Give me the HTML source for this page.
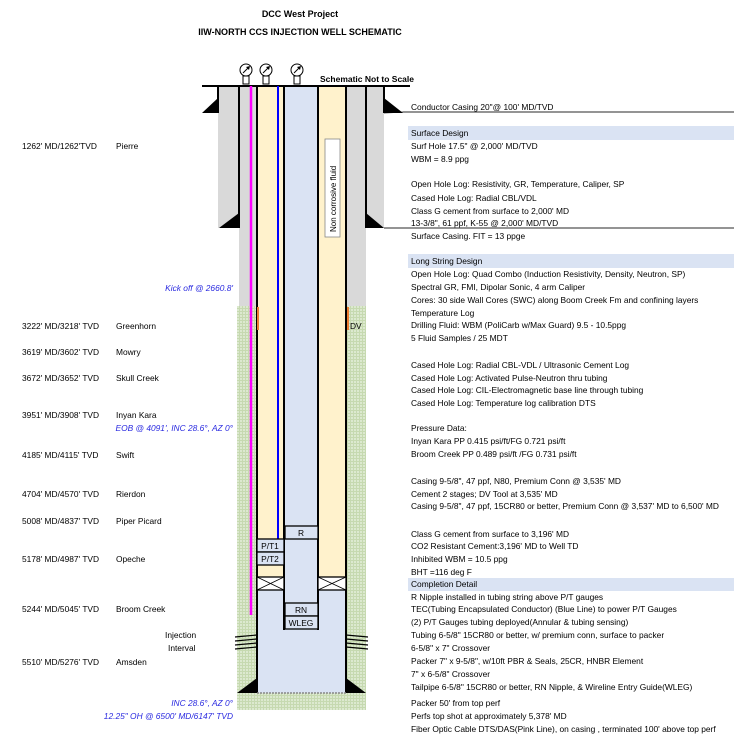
<!DOCTYPE html>
<html><head><meta charset="utf-8"><style>
html,body{margin:0;padding:0;background:#fff;width:740px;height:737px;overflow:hidden}
svg text{font-family:"Liberation Sans",sans-serif;font-size:8.4px;fill:#000}
.b{fill:#2a2ae0!important;font-style:italic}
</style></head><body>
<svg width="740" height="737" viewBox="0 0 740 737" xmlns="http://www.w3.org/2000/svg">
<defs>
<pattern id="g" width="3" height="3" patternUnits="userSpaceOnUse">
<rect width="3" height="3" fill="#c6d9b0"/><rect width="2" height="2" fill="#dce9cf"/>
</pattern>
</defs>
<text x="300" y="17" text-anchor="middle" style="font-weight:bold;font-size:9px">DCC West Project</text>
<text x="300" y="35" text-anchor="middle" style="font-weight:bold;font-size:9px">IIW-NORTH CCS INJECTION WELL SCHEMATIC</text>
<text x="320" y="82" style="font-weight:bold;font-size:8.5px">Schematic Not to Scale</text>

<rect x="237" y="306" width="20" height="404" fill="url(#g)"/>
<rect x="346" y="306" width="20" height="404" fill="url(#g)"/>
<rect x="237" y="693" width="129" height="17" fill="url(#g)"/>
<rect x="218" y="86" width="21" height="142" fill="#d9d9d9"/>
<rect x="366" y="86" width="18" height="142" fill="#d9d9d9"/>
<rect x="239" y="86" width="18" height="220" fill="#d9d9d9"/>
<rect x="346" y="86" width="20" height="220" fill="#d9d9d9"/>
<rect x="257" y="86" width="28" height="491" fill="#fff2cc"/>
<rect x="318" y="86" width="28" height="491" fill="#fff2cc"/>
<rect x="285" y="86" width="33" height="544" fill="#dae3f3"/>
<rect x="257" y="577" width="89" height="116" fill="#dae3f3"/>
<g stroke="#000" stroke-width="2" fill="none">
<line x1="202" y1="86" x2="410" y2="86"/>
<line x1="218" y1="86" x2="218" y2="113"/>
<line x1="384" y1="86" x2="384" y2="113"/>
<line x1="239" y1="86" x2="239" y2="228"/>
<line x1="366" y1="86" x2="366" y2="228"/>
<line x1="257" y1="86" x2="257" y2="693"/>
<line x1="346" y1="86" x2="346" y2="693"/>
<line x1="284" y1="86" x2="284" y2="630"/>
<line x1="318" y1="86" x2="318" y2="630"/>
</g>
<line x1="257" y1="693" x2="346" y2="693" stroke="#888" stroke-width="1.5" stroke-dasharray="2,1"/>
<line x1="403" y1="112" x2="734" y2="112" stroke="#555" stroke-width="1.2"/>
<line x1="384" y1="228" x2="734" y2="228" stroke="#555" stroke-width="1.2"/>
<line x1="384" y1="113" x2="403" y2="112" stroke="#555" stroke-width="1"/>
<g fill="#000">
<polygon points="202,113 218,113 218,98"/>
<polygon points="403,113 384,113 384,98"/>
<polygon points="219,228 239,228 239,213"/>
<polygon points="384,228 366,228 366,213"/>
<polygon points="237,693 257,693 257,678"/>
<polygon points="366,693 346,693 346,678"/>
</g>
<line x1="251" y1="86" x2="251" y2="615" stroke="#ff00ff" stroke-width="2.5"/>
<line x1="278" y1="86" x2="278" y2="539" stroke="#0000ff" stroke-width="2"/>
<rect x="257" y="307" width="2" height="23" fill="#ed7d31"/>
<rect x="347" y="307" width="2" height="23" fill="#ed7d31"/>
<text x="350" y="329">DV</text>
<rect x="325" y="139" width="15" height="98" fill="#fff" stroke="#888" stroke-width="0.8"/>
<text transform="translate(336,232) rotate(-90)" style="font-size:8px">Non corrosive fluid</text>
<g stroke="#000" stroke-width="1" fill="#fff">
<circle cx="246" cy="70" r="6"/><rect x="243" y="76" width="6" height="8"/>
<circle cx="266" cy="70" r="6"/><rect x="263" y="76" width="6" height="8"/>
<circle cx="297" cy="70" r="6"/><rect x="294" y="76" width="6" height="8"/>
<line x1="243" y1="73" x2="249" y2="67"/><line x1="263" y1="73" x2="269" y2="67"/><line x1="294" y1="73" x2="300" y2="67"/>
</g>
<g fill="#000">
<polygon points="250,66 246,67 249,70"/><polygon points="270,66 266,67 269,70"/><polygon points="301,66 297,67 300,70"/>
</g>
<g stroke="#000" stroke-width="1.3">
<rect x="285" y="526" width="33" height="13" fill="#dae3f3"/>
<rect x="257" y="539" width="27" height="13" fill="#dae3f3"/>
<rect x="257" y="552" width="27" height="13" fill="#dae3f3"/>
<rect x="285" y="603" width="33" height="13" fill="#dae3f3"/>
<rect x="285" y="616" width="33" height="13" fill="#dae3f3"/>
<rect x="257" y="577" width="27" height="13" fill="#fff"/>
<rect x="318" y="577" width="28" height="13" fill="#fff"/>
<path d="M257,577L284,590M284,577L257,590M318,577L346,590M346,577L318,590" stroke-width="0.8"/>
</g>
<text x="301" y="536" text-anchor="middle">R</text>
<text x="270" y="549" text-anchor="middle">P/T1</text>
<text x="270" y="562" text-anchor="middle">P/T2</text>
<text x="301" y="613" text-anchor="middle">RN</text>
<text x="301" y="626" text-anchor="middle">WLEG</text>
<g stroke="#000" stroke-width="1.2" fill="none">
<path d="M235,637L257,635M235,641L257,639M235,645L257,643M235,649L257,647"/>
<path d="M346,635L368,637M346,639L368,641M346,643L368,645M346,647L368,649"/>
</g>
<rect x="408" y="126" width="326" height="14" fill="#dae3f3"/>
<rect x="408" y="254" width="326" height="14" fill="#dae3f3"/>
<rect x="408" y="578" width="326" height="13" fill="#dae3f3"/>
<g>
<text x="411" y="110">Conductor Casing 20"@ 100' MD/TVD</text>
<text x="411" y="136">Surface Design</text>
<text x="411" y="149">Surf Hole 17.5" @ 2,000' MD/TVD</text>
<text x="411" y="162">WBM = 8.9 ppg</text>
<text x="411" y="187">Open Hole Log: Resistivity, GR, Temperature, Caliper, SP</text>
<text x="411" y="201">Cased Hole Log: Radial CBL/VDL</text>
<text x="411" y="214">Class G cement from surface to 2,000' MD</text>
<text x="411" y="226">13-3/8", 61 ppf, K-55 @ 2,000' MD/TVD</text>
<text x="411" y="239">Surface Casing.  FIT = 13 ppge</text>
<text x="411" y="264">Long String Design</text>
<text x="411" y="277">Open Hole Log: Quad Combo (Induction Resistivity, Density, Neutron, SP)</text>
<text x="411" y="290">Spectral GR, FMI, Dipolar Sonic, 4 arm Caliper</text>
<text x="411" y="303">Cores: 30 side Wall Cores (SWC) along Boom Creek Fm and confining layers</text>
<text x="411" y="316">Temperature Log</text>
<text x="411" y="328">Drilling Fluid: WBM (PoliCarb w/Max Guard) 9.5 - 10.5ppg</text>
<text x="411" y="341">5 Fluid Samples / 25 MDT</text>
<text x="411" y="368">Cased Hole Log: Radial CBL-VDL / Ultrasonic Cement Log</text>
<text x="411" y="381">Cased Hole Log: Activated Pulse-Neutron thru tubing</text>
<text x="411" y="393">Cased Hole Log: CIL-Electromagnetic base line through tubing</text>
<text x="411" y="406">Cased Hole Log: Temperature log calibration DTS</text>
<text x="411" y="431">Pressure Data:</text>
<text x="411" y="444">Inyan Kara PP 0.415 psi/ft/FG 0.721 psi/ft</text>
<text x="411" y="457">Broom Creek PP 0.489 psi/ft /FG 0.731 psi/ft</text>
<text x="411" y="484">Casing 9-5/8", 47 ppf, N80, Premium Conn @ 3,535' MD</text>
<text x="411" y="497">Cement 2 stages; DV Tool at 3,535' MD</text>
<text x="411" y="509">Casing 9-5/8", 47 ppf, 15CR80 or better, Premium Conn @ 3,537' MD to 6,500' MD</text>
<text x="411" y="537">Class G cement from surface to 3,196' MD</text>
<text x="411" y="549">CO2 Resistant Cement:3,196' MD to Well TD</text>
<text x="411" y="562">Inhibited WBM = 10.5 ppg</text>
<text x="411" y="575">BHT =116 deg F</text>
<text x="411" y="587">Completion Detail</text>
<text x="411" y="600">R Nipple installed in tubing string above P/T gauges</text>
<text x="411" y="612">TEC(Tubing Encapsulated Conductor)  (Blue Line) to power P/T Gauges</text>
<text x="411" y="625">(2) P/T Gauges tubing deployed(Annular &amp; tubing sensing)</text>
<text x="411" y="638">Tubing 6-5/8" 15CR80 or better, w/ premium conn, surface to packer</text>
<text x="411" y="651">6-5/8" x 7" Crossover</text>
<text x="411" y="664">Packer 7" x 9-5/8", w/10ft PBR &amp; Seals, 25CR, HNBR Element</text>
<text x="411" y="677">7" x 6-5/8" Crossover</text>
<text x="411" y="690">Tailpipe 6-5/8"  15CR80 or better, RN Nipple, &amp; Wireline Entry Guide(WLEG)</text>
<text x="411" y="706">Packer 50'  from top perf</text>
<text x="411" y="719">Perfs top shot at approximately 5,378' MD</text>
<text x="411" y="732">Fiber Optic Cable DTS/DAS(Pink Line), on casing , terminated 100' above top perf</text>
</g>
<g>
<text x="22" y="149">1262' MD/1262'TVD</text><text x="116" y="149">Pierre</text>
<text x="233" y="291" text-anchor="end" class="b">Kick off @ 2660.8'</text>
<text x="22" y="329">3222' MD/3218' TVD</text><text x="116" y="329">Greenhorn</text>
<text x="22" y="355">3619' MD/3602' TVD</text><text x="116" y="355">Mowry</text>
<text x="22" y="381">3672' MD/3652' TVD</text><text x="116" y="381">Skull Creek</text>
<text x="22" y="418">3951' MD/3908' TVD</text><text x="116" y="418">Inyan Kara</text>
<text x="233" y="431" text-anchor="end" class="b">EOB @ 4091', INC 28.6°, AZ 0°</text>
<text x="22" y="458">4185' MD/4115' TVD</text><text x="116" y="458">Swift</text>
<text x="22" y="497">4704' MD/4570' TVD</text><text x="116" y="497">Rierdon</text>
<text x="22" y="524">5008' MD/4837' TVD</text><text x="116" y="524">Piper Picard</text>
<text x="22" y="562">5178' MD/4987' TVD</text><text x="116" y="562">Opeche</text>
<text x="22" y="612">5244' MD/5045' TVD</text><text x="116" y="612">Broom Creek</text>
<text x="165" y="638">Injection</text>
<text x="168" y="651">Interval</text>
<text x="22" y="665">5510' MD/5276' TVD</text><text x="116" y="665">Amsden</text>
<text x="233" y="706" text-anchor="end" class="b">INC 28.6°, AZ 0°</text>
<text x="233" y="719" text-anchor="end" class="b">12.25" OH @ 6500' MD/6147' TVD</text>
</g>
</svg>
</body></html>
